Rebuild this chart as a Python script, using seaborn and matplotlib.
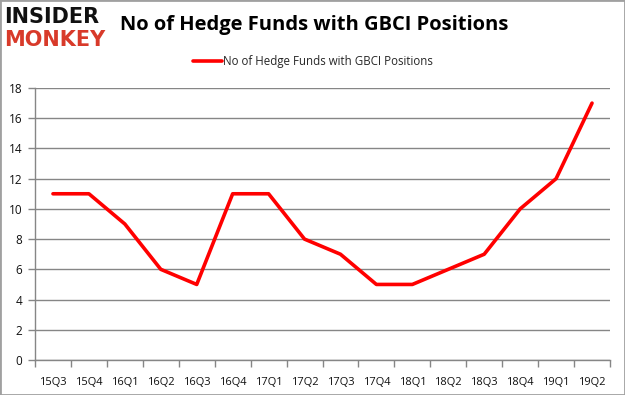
import pandas as pd
import seaborn as sns
import matplotlib.pyplot as plt

# Data
quarters = ["15Q3", "15Q4", "16Q1", "16Q2", "16Q3", "16Q4", "17Q1", "17Q2",
            "17Q3", "17Q4", "18Q1", "18Q2", "18Q3", "18Q4", "19Q1", "19Q2"]
hedge_funds = [11, 11, 9, 6, 5, 11, 11, 8, 7, 5, 5, 6, 7, 10, 12, 17]
series_name = "No of Hedge Funds with GBCI Positions"

df = pd.DataFrame({"quarter": quarters, "funds": hedge_funds})
df["pos"] = range(len(quarters))

sns.set_theme(style="white")
plt.rcParams["font.family"] = ["Open Sans", "DejaVu Sans"]

fig = plt.figure(figsize=(6.25, 3.95), dpi=100)
ax = fig.add_axes([35 / 625, 1 - 360 / 395, 575 / 625, 272 / 395])

sns.lineplot(data=df, x="pos", y="funds", color="#ff0000", linewidth=2.6,
             label=series_name, ax=ax, legend=False)

grey = "#868686"
ax.set_xlim(-0.5, len(quarters) - 0.5)
ax.set_ylim(0, 18)
ax.set_yticks(range(0, 19, 2))
ax.set_xticks(range(len(quarters)))
ax.set_xticklabels(quarters)
ax.set_xticks([i - 0.5 for i in range(len(quarters) + 1)], minor=True)
ax.tick_params(axis="x", which="major", length=0, pad=12, labelsize=8,
               labelcolor="#111111")
ax.tick_params(axis="x", which="minor", length=5, color=grey, width=1,
               direction="out", bottom=True)
ax.tick_params(axis="y", length=5, color=grey, width=1, direction="out",
               left=True, labelsize=8.5, pad=4, labelcolor="#111111")
ax.yaxis.grid(True, color=grey, linewidth=1)
ax.set_axisbelow(True)
ax.set_xlabel("")
ax.set_ylabel("")
for side in ["top", "right"]:
    ax.spines[side].set_visible(False)
for side in ["left", "bottom"]:
    ax.spines[side].set_color(grey)
    ax.spines[side].set_linewidth(1)

# Legend on top
fig.legend(handles=ax.get_lines()[:1], labels=[series_name], loc="center",
           bbox_to_anchor=(313 / 625, 1 - 62 / 395), frameon=False,
           fontsize=8.3, handlelength=2.5, handletextpad=0.1)

# Title and logo
fig.text(120 / 625, 1 - 25 / 395, "No of Hedge Funds with GBCI Positions",
         fontsize=14.5, fontweight="bold", va="center", ha="left", color="black")
fig.text(4 / 625, 1 - 17 / 395, "INSIDER", fontsize=15, fontweight="heavy",
         va="center", ha="left", color="#111111", family="DejaVu Sans")
fig.text(4 / 625, 1 - 40 / 395, "MONKEY", fontsize=15, fontweight="heavy",
         va="center", ha="left", color="#d83a2a", family="DejaVu Sans")

# Gray border around the picture
fig.patches.append(plt.Rectangle((0, 0), 1, 1, transform=fig.transFigure,
                                 fill=False, edgecolor="#a0a0a0", linewidth=2))

fig.savefig("out.png", dpi=100)
